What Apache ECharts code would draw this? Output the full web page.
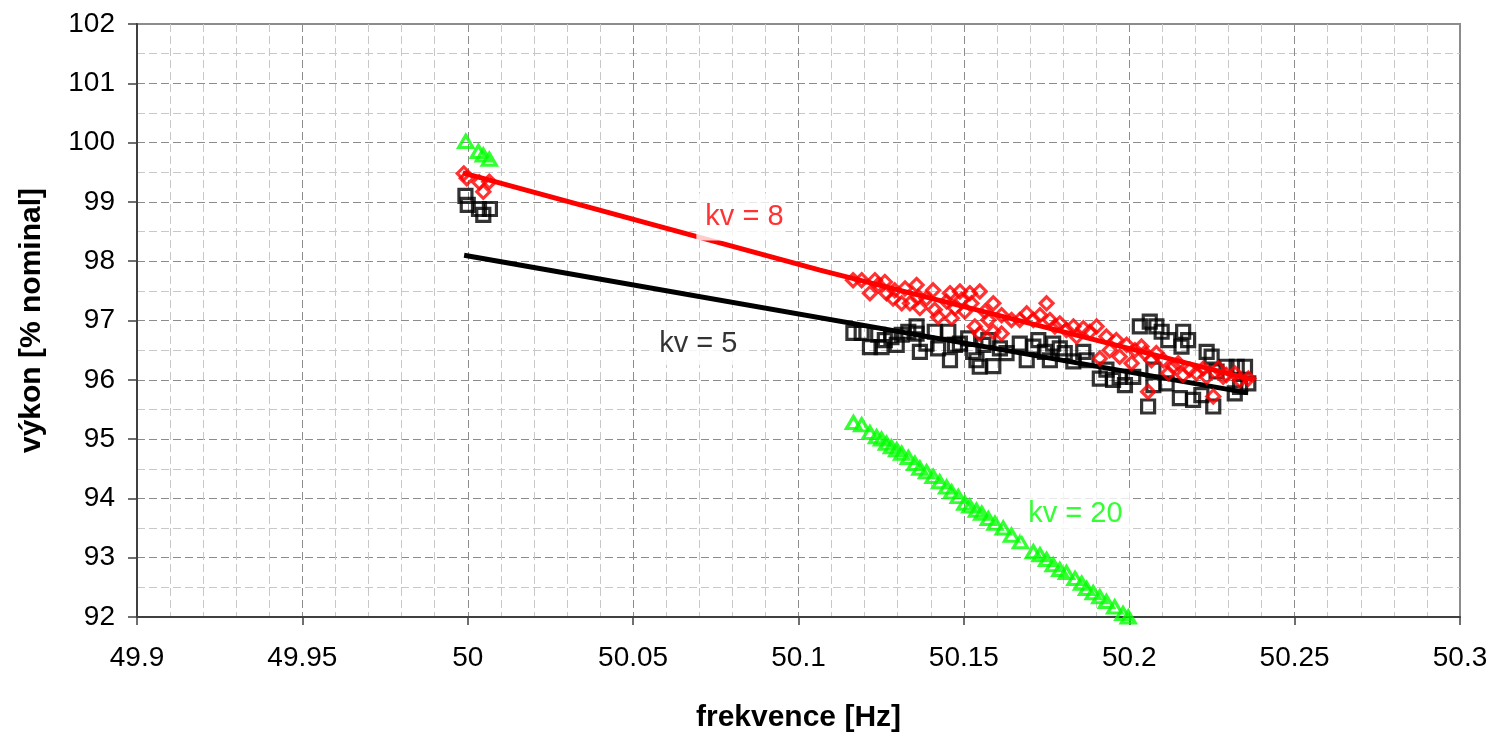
<!DOCTYPE html>
<html>
<head>
<meta charset="utf-8">
<script src="https://cdn.jsdelivr.net/npm/echarts@6/dist/echarts.min.js"></script>
<style>
  html, body { margin: 0; padding: 0; background: #fff; }
  #chart { width: 1497px; height: 738px; }
</style>
</head>
<body>
<div id="chart"></div>
<script>
// measured points [frekvence Hz, výkon %]
const kv5Points = [
  [49.9993, 99.10], [50.0000, 98.95], [50.0034, 98.88], [50.0047, 98.78], [50.0067, 98.88],
  [50.1166, 96.79], [50.1191, 96.79], [50.1216, 96.55], [50.1241, 96.76], [50.1261, 96.67],
  [50.1251, 96.55], [50.1281, 96.72], [50.1297, 96.59], [50.1312, 96.76], [50.1332, 96.81],
  [50.1357, 96.90], [50.1357, 96.78], [50.1367, 96.47], [50.1387, 96.61], [50.1412, 96.81],
  [50.1422, 96.53], [50.1453, 96.81], [50.1458, 96.33], [50.1473, 96.59], [50.1488, 96.61],
  [50.1513, 96.70], [50.1528, 96.47], [50.1538, 96.33], [50.1559, 96.59], [50.1574, 96.67],
  [50.1589, 96.23], [50.1548, 96.22], [50.1609, 96.53], [50.1629, 96.45], [50.1669, 96.61],
  [50.1690, 96.33], [50.1710, 96.56], [50.1725, 96.67], [50.1745, 96.47], [50.1760, 96.33],
  [50.1770, 96.61], [50.1790, 96.53], [50.1805, 96.45], [50.1831, 96.31], [50.1861, 96.47],
  [50.1871, 96.33], [50.1911, 96.02], [50.1931, 96.17], [50.1951, 96.00], [50.1971, 96.05],
  [50.1987, 95.91], [50.2012, 96.05], [50.2032, 96.90], [50.2062, 96.98], [50.2082, 96.90],
  [50.2098, 96.81], [50.2118, 96.67], [50.2163, 96.81], [50.2178, 96.67], [50.2158, 96.56],
  [50.2057, 95.55], [50.2073, 95.91], [50.2113, 95.94], [50.2153, 95.69], [50.2193, 95.66],
  [50.2234, 96.47], [50.2249, 96.39], [50.2264, 96.14], [50.2294, 96.22], [50.2325, 96.22],
  [50.2350, 96.22], [50.2319, 95.77], [50.2254, 95.55], [50.2335, 95.88], [50.2360, 95.94],
  [50.2218, 95.74], [50.2073, 96.17]
];
const kv8Points = [
  [49.9988, 99.48], [49.9997, 99.40], [50.0035, 99.33], [50.0047, 99.17], [50.0065, 99.34],
  [50.1165, 97.68], [50.1191, 97.68], [50.1216, 97.46], [50.1231, 97.68], [50.1241, 97.60],
  [50.1261, 97.65], [50.1266, 97.46], [50.1286, 97.37], [50.1291, 97.51], [50.1312, 97.29],
  [50.1322, 97.54], [50.1337, 97.29], [50.1357, 97.60], [50.1362, 97.40], [50.1367, 97.21],
  [50.1387, 97.37], [50.1407, 97.51], [50.1412, 97.18], [50.1422, 97.06], [50.1448, 97.32],
  [50.1458, 97.46], [50.1463, 97.04], [50.1473, 97.21], [50.1488, 97.49], [50.1493, 97.35],
  [50.1503, 97.15], [50.1518, 97.46], [50.1523, 97.29], [50.1533, 96.90], [50.1548, 97.49],
  [50.1548, 96.78], [50.1564, 97.15], [50.1574, 97.01], [50.1589, 97.29], [50.1589, 96.81],
  [50.1614, 97.09], [50.1614, 96.78], [50.1644, 97.01], [50.1669, 97.01], [50.1690, 97.12],
  [50.1710, 97.01], [50.1730, 97.09], [50.1750, 97.29], [50.1760, 97.01], [50.1775, 96.90],
  [50.1790, 96.95], [50.1810, 96.84], [50.1831, 96.90], [50.1841, 96.73], [50.1861, 96.87],
  [50.1881, 96.81], [50.1901, 96.90], [50.1911, 96.36], [50.1931, 96.73], [50.1941, 96.50],
  [50.1961, 96.67], [50.1971, 96.39], [50.1992, 96.59], [50.2007, 96.28], [50.2017, 96.50],
  [50.2037, 96.56], [50.2047, 96.45], [50.2057, 95.80], [50.2067, 96.33], [50.2082, 96.45],
  [50.2103, 96.33], [50.2118, 96.11], [50.2133, 96.22], [50.2148, 96.28], [50.2163, 96.08],
  [50.2183, 96.17], [50.2203, 96.11], [50.2224, 96.19], [50.2234, 96.05], [50.2254, 95.72],
  [50.2269, 96.19], [50.2284, 96.05], [50.2294, 96.08], [50.2319, 96.11], [50.2334, 95.99],
  [50.2360, 96.02]
];
const kv20Points = [
  [49.9994, 100.02], [50.0032, 99.85], [50.0047, 99.79], [50.0065, 99.72],
  [50.1166, 95.28], [50.1191, 95.24], [50.1216, 95.11], [50.1236, 95.04], [50.1251, 95.00],
  [50.1266, 94.93], [50.1281, 94.87], [50.1297, 94.82], [50.1312, 94.76], [50.1332, 94.69],
  [50.1352, 94.59], [50.1367, 94.51], [50.1387, 94.45], [50.1407, 94.37], [50.1427, 94.28],
  [50.1448, 94.19], [50.1463, 94.11], [50.1483, 94.03], [50.1503, 93.92], [50.1518, 93.87],
  [50.1538, 93.80], [50.1554, 93.75], [50.1574, 93.66], [50.1594, 93.58], [50.1619, 93.50],
  [50.1644, 93.38], [50.1671, 93.27], [50.1710, 93.10], [50.1730, 93.05], [50.1750, 92.97],
  [50.1770, 92.88], [50.1790, 92.80], [50.1810, 92.75], [50.1836, 92.65], [50.1856, 92.57],
  [50.1871, 92.48], [50.1891, 92.41], [50.1911, 92.34], [50.1931, 92.26], [50.1956, 92.17],
  [50.1981, 92.06], [50.1997, 92.00]
];
// trend lines
const kv5Line = [[49.9989, 98.10], [50.2359, 95.78]];
const kv8Line = [[49.9985, 99.49], [50.1065, 97.85], [50.2374, 96.00]];
// annotations: [x, y, text, colour, padding]
const notes = [
  [50.0826, 98.745, 'kv = 8', '#ff0000', [6, 2, 12, 9]],
  [50.0697, 96.612, 'kv = 5', '#000000', [6, 8, 8, 8]],
  [50.18386, 93.745, 'kv = 20', '#00ff00', [7, 9, 8, 8]]
];

const FONT = 'Liberation Sans, Arial, sans-serif';
const chart = echarts.init(document.getElementById('chart'));

const hollow = (color) => ({ color: 'rgba(0,0,0,0)', borderColor: color, borderWidth: 3.2 });

const option = {
  animation: false,
  grid: {
    left: 137, right: 37, top: 24, bottom: 121,
    show: true, borderColor: '#8c8c8c', borderWidth: 2, backgroundColor: 'transparent'
  },
  xAxis: {
    type: 'value', min: 49.9, max: 50.3, interval: 0.05,
    name: 'frekvence [Hz]', nameLocation: 'middle', nameGap: 86,
    nameTextStyle: { fontFamily: FONT, fontSize: 30, fontWeight: 'bold', color: '#000' },
    axisLine: { show: true, lineStyle: { color: '#404040', width: 2 } },
    axisTick: { show: true, inside: false, length: 8, lineStyle: { color: '#404040', width: 1.5 } },
    axisLabel: { fontFamily: FONT, fontSize: 28, color: '#000', margin: 27 },
    splitLine: { show: true, lineStyle: { color: '#8c8c8c', type: [8, 4], width: 1 } },
    minorTick: { show: false, splitNumber: 5 },
    minorSplitLine: { show: true, lineStyle: { color: '#c8c8c8', type: [8, 4], width: 1 } }
  },
  yAxis: {
    type: 'value', min: 92, max: 102, interval: 1,
    name: 'výkon [% nominal]', nameLocation: 'middle', nameGap: 90,
    nameTextStyle: { fontFamily: FONT, fontSize: 30, fontWeight: 'bold', color: '#000' },
    axisLine: { show: true, lineStyle: { color: '#404040', width: 2 } },
    axisTick: { show: true, inside: false, length: 9, lineStyle: { color: '#404040', width: 1.5 } },
    axisLabel: { fontFamily: FONT, fontSize: 28, color: '#000', margin: 22 },
    splitLine: { show: true, lineStyle: { color: '#8c8c8c', type: [8, 4], width: 1 } },
    minorTick: { show: false, splitNumber: 2 },
    minorSplitLine: { show: true, lineStyle: { color: '#c8c8c8', type: [8, 4], width: 1 } }
  },
  series: [
    {
      name: 'kv5', type: 'scatter', z: 2, data: kv5Points,
      symbol: 'rect', symbolSize: 13, itemStyle: hollow('#000000')
    },
    {
      name: 'kv5 trend', type: 'line', z: 3, data: kv5Line, symbol: 'none',
      lineStyle: { color: '#000000', width: 5 }
    },
    {
      name: 'kv8', type: 'scatter', z: 4, data: kv8Points,
      symbol: 'diamond', symbolSize: 13, itemStyle: hollow('#ff0000')
    },
    {
      name: 'kv8 trend', type: 'line', z: 5, data: kv8Line, symbol: 'none',
      lineStyle: { color: '#ff0000', width: 5 }
    },
    {
      name: 'kv20', type: 'scatter', z: 6, data: kv20Points,
      symbol: 'triangle', symbolSize: [14, 12], itemStyle: hollow('#00ff00')
    },
    {
      name: 'notes', type: 'scatter', z: 10, symbolSize: 1,
      itemStyle: { color: 'rgba(0,0,0,0)' },
      data: notes.map(n => ({
        value: [n[0], n[1]],
        label: {
          show: true, position: 'inside', formatter: n[2],
          fontFamily: FONT, fontSize: 29, lineHeight: 29, color: n[3],
          backgroundColor: '#ffffff', padding: n[4]
        }
      }))
    }
  ]
};

chart.setOption(option);
</script>
</body>
</html>
